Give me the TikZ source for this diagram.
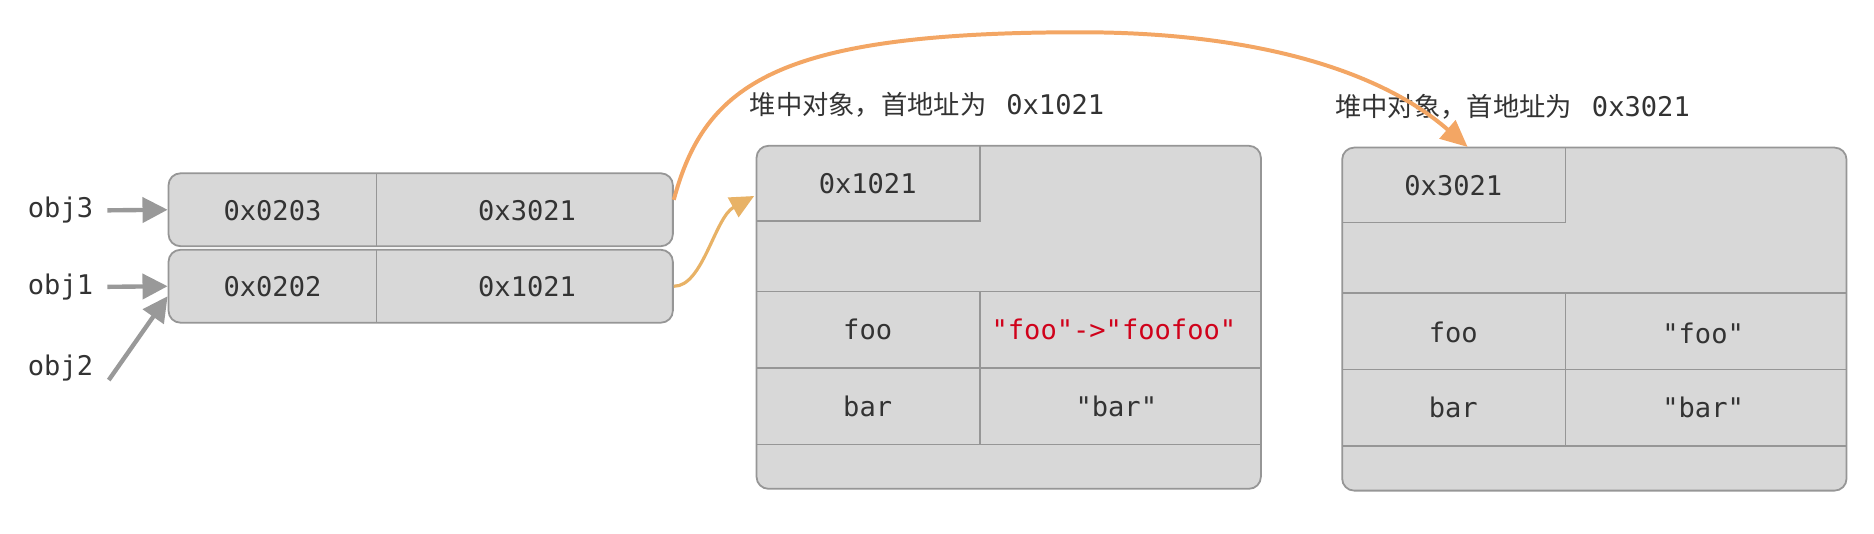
\documentclass[tikz,border=0pt]{standalone}
\usepackage{fontspec}
\setmonofont{DejaVu Sans Mono}
\newfontfamily\cjk{Noto Sans CJK SC}
\usetikzlibrary{arrows.meta}
\definecolor{boxfill}{RGB}{216,216,216}
\definecolor{boxline}{RGB}{150,150,150}
\definecolor{txt}{RGB}{51,51,51}
\definecolor{redtxt}{RGB}{208,2,27}
\definecolor{garrow}{RGB}{153,153,153}
\definecolor{orangeA}{RGB}{243,166,100}
\definecolor{orangeB}{RGB}{232,178,102}
\begin{document}
\begin{tikzpicture}[x=0.6pt,y=-0.6pt,
  memrow/.style={draw=boxline, line width=0.9pt, fill=boxfill, rounded corners=6pt,
    minimum width=253.2pt, minimum height=36.6pt, inner sep=0pt},
  heapbox/.style={draw=boxline, line width=0.9pt, fill=boxfill, rounded corners=6pt,
    minimum width=253.2pt, minimum height=172.2pt, inner sep=0pt},
  cellline/.style={draw=boxline, line width=0.75pt},
  celltxt/.style={font=\ttfamily\fontsize{13.6}{15}\selectfont, text=txt, inner sep=0pt},
  redcell/.style={celltxt, text=redtxt},
  varlbl/.style={celltxt, anchor=west},
  heaplbl/.style={font=\fontsize{13.2}{15}\selectfont, text=txt, anchor=west, inner sep=0pt},
  grayarrow/.style={draw=garrow, line width=2.2pt, -{Triangle[length=12.6pt,width=12.5pt]}},
  ptrA/.style={draw=orangeA, line width=2pt, -{Triangle[length=13.5pt,width=12pt]}},
  ptrB/.style={draw=orangeB, line width=1.6pt, -{Triangle[length=12pt,width=11pt]}}
]
\useasboundingbox (0,0) rectangle (1568,446);

% stack rows
\node[memrow] (r3) at (352,175.5) {};
\node[memrow] (r1) at (352,239.5) {};
\draw[cellline] (315,145) -- (315,206);
\draw[cellline] (315,209) -- (315,270);
\node[celltxt] (r3a) at (228,176) {0x0203};
\node[celltxt] (r3b) at (441,176) {0x3021};
\node[celltxt] (r1a) at (228,240) {0x0202};
\node[celltxt] (r1b) at (441,240) {0x1021};

% variable labels
\node[varlbl] (obj3) at (23,176) {obj3};
\node[varlbl] (obj1) at (23,240) {obj1};
\node[varlbl] (obj2) at (23,308) {obj2};
\coordinate (obj2s) at (91,318);

\draw[grayarrow] ([xshift=7pt]obj3.east) -- (r3.west);
\draw[grayarrow] ([xshift=7pt]obj1.east) -- (r1.west);
\draw[grayarrow] (obj2s) -- ([yshift=-5pt]r1.west);

% heap object A
\node[heaplbl] (labA) at (627,88) {{\cjk 堆中对象，首地址为}\hspace{10pt}{\ttfamily\fontsize{13.6}{15}\selectfont 0x1021}};
\node[heapbox] (hA) at (844,265.5) {};
\draw[cellline] (633,185) -- (820,185) -- (820,122);
\draw[cellline] (633,244) -- (1055,244);
\draw[cellline] (633,308) -- (1055,308);
\draw[cellline] (633,372) -- (1055,372);
\draw[cellline] (820,244) -- (820,372);
\node[celltxt] (a0) at (726,154) {0x1021};
\node[celltxt] (ak1) at (726,276) {foo};
\node[redcell] (av1) at (932,276) {"foo"->"foofoo"};
\node[celltxt] (ak2) at (726,340) {bar};
\node[celltxt] (av2) at (934,340) {"bar"};

% heap object B
\node[heaplbl] (labB) at (1117,89) {{\cjk 堆中对象，首地址为}\hspace{10pt}{\ttfamily\fontsize{13.6}{15}\selectfont 0x3021}};
\node[heapbox] (hB) at (1334,267) {};
\draw[cellline] (1123,186) -- (1310,186) -- (1310,124);
\draw[cellline] (1123,245) -- (1545,245);
\draw[cellline] (1123,309) -- (1545,309);
\draw[cellline] (1123,373) -- (1545,373);
\draw[cellline] (1310,245) -- (1310,373);
\node[celltxt] (b0) at (1216,155) {0x3021};
\node[celltxt] (bk1) at (1216,278) {foo};
\node[celltxt] (bv1) at (1425,279) {"foo"};
\node[celltxt] (bk2) at (1216,341) {bar};
\node[celltxt] (bv2) at (1425,341) {"bar"};

% pointers
\coordinate (tipB) at (1228,123);
\coordinate (tipA) at (631,164);
\draw[ptrA] ([yshift=5pt]r3.east) .. controls (590,70) and (650,27) .. (904,27)
  .. controls (1040,27) and (1150,55) .. (tipB);
\draw[ptrB] (r1.east) .. controls (588,240) and (598,182) .. (tipA);
\end{tikzpicture}
\end{document}
